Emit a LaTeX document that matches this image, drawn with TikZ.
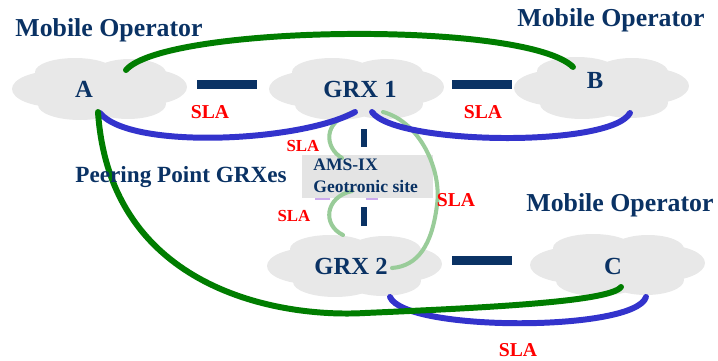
\documentclass[tikz,border=0pt]{standalone}
\usepackage{fontspec}
\setmainfont{Liberation Serif}
\definecolor{navy}{RGB}{10,50,100}
\definecolor{cloudgray}{RGB}{232,232,232}
\definecolor{boxgray}{RGB}{228,228,228}
\definecolor{slablue}{RGB}{51,51,204}
\definecolor{dgreen}{RGB}{0,125,0}
\definecolor{lgreen}{RGB}{153,204,153}
\definecolor{lpurple}{RGB}{204,170,238}
\newcommand\cloudfill[1]{%
 \begin{scope}[shift={(#1)}]
  \fill[cloudgray] (0,0) ellipse [x radius=1.2cm, y radius=0.42cm];
  \fill[cloudgray] (-45,0) ellipse [x radius=0.86cm, y radius=0.36cm];
  \fill[cloudgray] (45,-2) ellipse [x radius=0.84cm, y radius=0.36cm];
  \fill[cloudgray] (-25,-17) ellipse [x radius=0.8cm, y radius=0.28cm];
  \fill[cloudgray] (30,-16) ellipse [x radius=0.72cm, y radius=0.28cm];
  \fill[cloudgray] (-20,16) ellipse [x radius=0.84cm, y radius=0.30cm];
  \fill[cloudgray] (28,15) ellipse [x radius=0.76cm, y radius=0.30cm];
 \end{scope}}
\begin{document}
\begin{tikzpicture}[x=0.02cm,y=-0.02cm,
 cloudnode/.style={inner sep=0pt, minimum width=3.5cm, minimum height=1.24cm, draw=none},
 nm/.style={text=navy, anchor=base, font=\bfseries\fontsize{14}{16}\selectfont},
 op/.style={text=navy, anchor=base, font=\bfseries\fontsize{14.7}{17}\selectfont},
 sla/.style={text=red, anchor=base, font=\bfseries\fontsize{11.2}{13}\selectfont},
 slas/.style={text=red, anchor=base, font=\bfseries\fontsize{9.6}{11}\selectfont},
 hbar/.style={fill=navy, minimum width=1.2cm, minimum height=0.18cm, inner sep=0pt, draw=none},
 vbar/.style={fill=navy, minimum width=0.12cm, minimum height=0.37cm, inner sep=0pt, draw=none},
 amsbox/.style={fill=boxgray, draw=none, minimum width=2.62cm, minimum height=0.86cm, inner sep=0pt},
 bluel/.style={draw=slablue, line width=3.4pt, line cap=round},
 greenl/.style={draw=dgreen, line width=3.4pt, line cap=round},
 lgreenl/.style={draw=lgreen, line width=2.3pt, line cap=round},
 pmark/.style={draw=lpurple, line width=1.1pt}
]
\useasboundingbox (0,0) rectangle (718,361);
% clouds
\node[cloudnode] (cA) at (100,89) {};
\node[cloudnode] (cG1) at (357,89) {};
\node[cloudnode] (cB) at (602,88) {};
\node[cloudnode] (cG2) at (355,266) {};
\node[cloudnode] (cC) at (618,265) {};
\cloudfill{cA}
\cloudfill{cG1}
\cloudfill{cB}
\cloudfill{cG2}
\cloudfill{cC}
% AMS-IX box
\node[amsbox] (ams) at (367.5,176.5) {};
\draw[pmark] (315,199) -- (330,199);
\draw[pmark] (366,199) -- (378,199);
% bars
\node[hbar] (bar1) at (227,85) {};
\node[hbar] (bar2) at (482,85) {};
\node[hbar] (bar3) at (482,261) {};
\node[vbar] (vbar1) at (364,138) {};
\node[vbar] (vbar2) at (364,216.5) {};
% endpoints
\coordinate (bA) at (100,113);
\coordinate (bG1a) at (355,112);
\coordinate (bG1b) at (372,112);
\coordinate (bB) at (630,113);
\coordinate (bG2) at (390,297);
\coordinate (bC) at (646,297);
\coordinate (gA1) at (126,70);
\coordinate (gB) at (573,67);
\coordinate (gA2) at (98,112);
\coordinate (gC) at (621,287);
\coordinate (l1s) at (352,113);
\coordinate (l1e) at (342,158);
\coordinate (l2s) at (352,191);
\coordinate (l2e) at (343,235);
\coordinate (l3s) at (383,112);
\coordinate (l3e) at (392,268);
% light green
\draw[lgreenl] (l1s) .. controls (322,122) and (325,148) .. (l1e);
\draw[lgreenl] (l2s) .. controls (325,197) and (322,225) .. (l2e);
\draw[lgreenl] (l3s) .. controls (420,122) and (442,170) .. (437,205) .. controls (432,245) and (418,266) .. (l3e);
% blue
\draw[bluel] (bA) .. controls (130,150) and (300,142) .. (bG1a);
\draw[bluel] (bG1b) .. controls (395,145) and (610,148) .. (bB);
\draw[bluel] (bG2) .. controls (405,332) and (635,332) .. (bC);
% dark green
\draw[greenl] (gA1) .. controls (165,25) and (525,20) .. (gB);
\draw[greenl] (gA2) .. controls (110,290) and (280,318) .. (365,313) .. controls (480,308) and (610,302) .. (gC);
% texts
\node[nm] (tA) at (84,98) {A};
\node[nm] (tG1) at (360,98) {GRX 1};
\node[nm] (tB) at (595,89) {B};
\node[nm] (tG2) at (351,275) {GRX 2};
\node[nm] (tC) at (613,275) {C};
\node[op] (mo1) at (109,37) {Mobile Operator};
\node[op] (mo2) at (611,27) {Mobile Operator};
\node[op] (mo3) at (620,212) {Mobile Operator};
\node[text=navy, anchor=base, font=\bfseries\fontsize{13.2}{15}\selectfont] (peer) at (181,183) {Peering Point GRXes};
\node[text=navy, anchor=north west, inner sep=0pt, align=left, font=\bfseries\fontsize{10}{12}\selectfont] (amst) at (313,159) {AMS-IX\\Geotronic site};
\node[sla] (s1) at (210,119) {SLA};
\node[sla] (s2) at (483,119) {SLA};
\node[slas] (s3) at (303,152) {SLA};
\node[slas] (s4) at (294,222) {SLA};
\node[sla] (s5) at (456,207) {SLA};
\node[sla] (s6) at (518,357) {SLA};
\end{tikzpicture}
\end{document}
